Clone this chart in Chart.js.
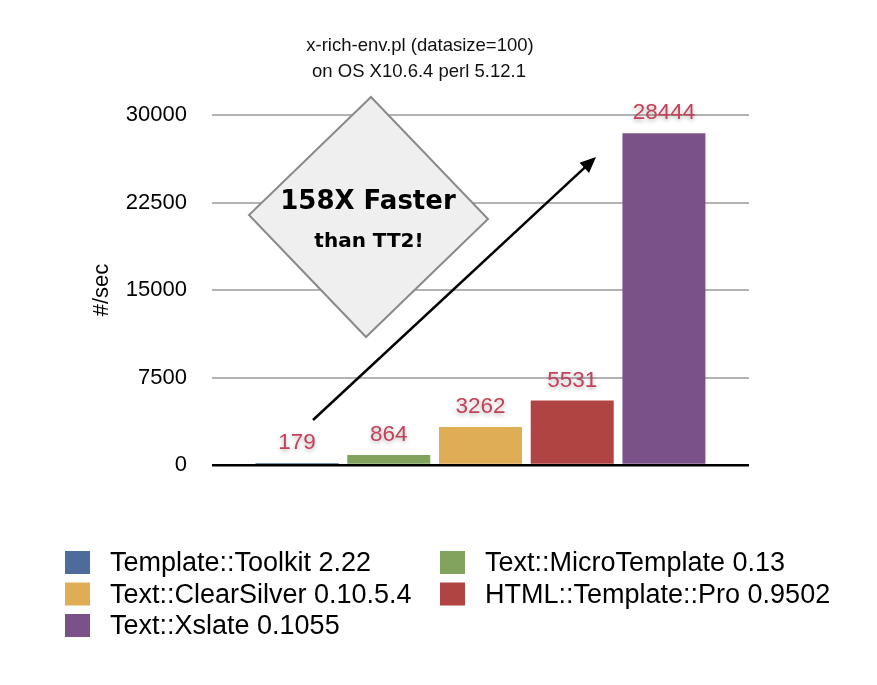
<!DOCTYPE html>
<html>
<head>
<meta charset="utf-8">
<script src="https://cdn.jsdelivr.net/npm/chart.js@4"></script>
<style>
  html, body { margin: 0; padding: 0; background: #fff; }
  #wrap { width: 877px; height: 685px; }
</style>
</head>
<body>
<div id="wrap"><canvas id="c" width="877" height="685"></canvas></div>
<script>
const categories = [''];
const seriesNames = [
  'Template::Toolkit 2.22',
  'Text::MicroTemplate 0.13',
  'Text::ClearSilver 0.10.5.4',
  'HTML::Template::Pro 0.9502',
  'Text::Xslate 0.1055'
];
const seriesValues = [179, 864, 3262, 5531, 28444];
const seriesColors = ['#4e6c9b', '#82a35d', '#e0ad57', '#b04442', '#7a5289'];
const yTicks = [0, 7500, 15000, 22500, 30000];
const titleLines = ['x-rich-env.pl (datasize=100)', 'on OS X10.6.4 perl 5.12.1'];
const yAxisTitle = '#/sec';
const calloutLines = ['158X Faster', 'than TT2!'];

const FONT = '"Liberation Sans", Arial, Helvetica, sans-serif';

const titlePlugin = {
  id: 'twoLineTitle',
  afterDraw(chart) {
    const ctx = chart.ctx;
    ctx.save();
    ctx.fillStyle = '#111';
    ctx.font = '18.5px ' + FONT;
    ctx.textAlign = 'center';
    ctx.textBaseline = 'middle';
    ctx.fillText(titleLines[0], 420, 46);
    ctx.fillText(titleLines[1], 419, 72);
    ctx.restore();
  }
};

const valueLabelPlugin = {
  id: 'valueLabels',
  afterDatasetsDraw(chart) {
    const ctx = chart.ctx;
    ctx.save();
    ctx.font = '22.5px ' + FONT;
    ctx.textAlign = 'center';
    ctx.textBaseline = 'middle';
    ctx.fillStyle = '#c4415a';
    ctx.shadowColor = 'rgba(0,0,0,0.3)';
    ctx.shadowBlur = 4;
    ctx.shadowOffsetY = 2;
    chart.data.datasets.forEach((ds, i) => {
      const bar = chart.getDatasetMeta(i).data[0];
      ctx.fillText(String(ds.data[0]), bar.x, bar.y - 20);
    });
    ctx.restore();
  }
};

const calloutPlugin = {
  id: 'callout',
  afterDatasetsDraw(chart) {
    const ctx = chart.ctx;
    const a = chart.chartArea;
    const ox = a.left, oy = a.top;
    ctx.save();
    // arrow
    const x1 = ox + 101, y1 = oy + 305, x2 = ox + 384, y2 = oy + 42;
    ctx.strokeStyle = '#000';
    ctx.fillStyle = '#000';
    ctx.lineWidth = 2.5;
    ctx.beginPath();
    ctx.moveTo(x1, y1);
    const ang = Math.atan2(y2 - y1, x2 - x1);
    ctx.lineTo(x2 - 10 * Math.cos(ang), y2 - 10 * Math.sin(ang));
    ctx.stroke();
    ctx.beginPath();
    ctx.moveTo(x2, y2);
    ctx.lineTo(x2 - 16 * Math.cos(ang) + 7 * Math.sin(ang), y2 - 16 * Math.sin(ang) - 7 * Math.cos(ang));
    ctx.lineTo(x2 - 16 * Math.cos(ang) - 7 * Math.sin(ang), y2 - 16 * Math.sin(ang) + 7 * Math.cos(ang));
    ctx.closePath();
    ctx.fill();
    // diamond
    ctx.beginPath();
    ctx.moveTo(ox + 159, oy - 18);
    ctx.lineTo(ox + 276, oy + 104);
    ctx.lineTo(ox + 154, oy + 222);
    ctx.lineTo(ox + 37, oy + 100);
    ctx.closePath();
    ctx.fillStyle = '#efefef';
    ctx.fill();
    ctx.strokeStyle = '#8a8a8a';
    ctx.lineWidth = 2;
    ctx.stroke();
    ctx.fillStyle = '#000';
    ctx.textAlign = 'center';
    ctx.textBaseline = 'middle';
    ctx.font = 'bold 26px "DejaVu Sans", ' + FONT;
    ctx.fillText(calloutLines[0], ox + 156, oy + 87);
    ctx.font = 'bold 20px "DejaVu Sans", ' + FONT;
    ctx.fillText(calloutLines[1], ox + 157, oy + 127);
    ctx.restore();
  }
};

const legendPlugin = {
  id: 'gridLegend',
  afterDraw(chart) {
    const ctx = chart.ctx;
    const top = chart.chartArea.bottom + 86;
    const colX = [65, 440];
    ctx.save();
    ctx.font = '27px ' + FONT;
    ctx.textBaseline = 'middle';
    ctx.textAlign = 'left';
    seriesNames.forEach((name, i) => {
      const col = i % 2, row = Math.floor(i / 2);
      const bx = colX[col], by = top + row * 31.5;
      ctx.fillStyle = seriesColors[i];
      ctx.fillRect(bx, by, 25, 23);
      ctx.fillStyle = '#000';
      ctx.fillText(name, bx + 45, by + 13);
    });
    ctx.restore();
  }
};

new Chart(document.getElementById('c'), {
  type: 'bar',
  data: {
    labels: categories,
    datasets: seriesNames.map((n, i) => ({
      label: n,
      data: [seriesValues[i]],
      backgroundColor: seriesColors[i],
      borderWidth: 0,
      categoryPercentage: 0.854,
      barPercentage: 0.905
    }))
  },
  options: {
    responsive: false,
    animation: false,
    layout: { padding: { left: 85, right: 128, top: 115, bottom: 220 } },
    plugins: {
      legend: { display: false },
      title: { display: false },
      tooltip: { enabled: false }
    },
    scales: {
      x: { display: false },
      y: {
        min: 0,
        max: 30000,
        afterBuildTicks(scale) { scale.ticks = yTicks.map(v => ({ value: v })); },
        afterFit(scale) { scale.width = 127; },
        border: { display: false },
        grid: {
          drawTicks: false,
          color: c => (c.tick && c.tick.value === 0) ? '#000' : '#b3b3b3',
          lineWidth: c => (c.tick && c.tick.value === 0) ? 2.5 : 2
        },
        ticks: {
          padding: 25,
          color: '#000',
          font: { family: FONT, size: 22 },
          callback: v => String(v)
        },
        title: {
          display: true,
          text: yAxisTitle,
          color: '#000',
          font: { family: FONT, size: 22 },
          padding: 4
        }
      }
    }
  },
  plugins: [titlePlugin, valueLabelPlugin, calloutPlugin, legendPlugin]
});
</script>
</body>
</html>
